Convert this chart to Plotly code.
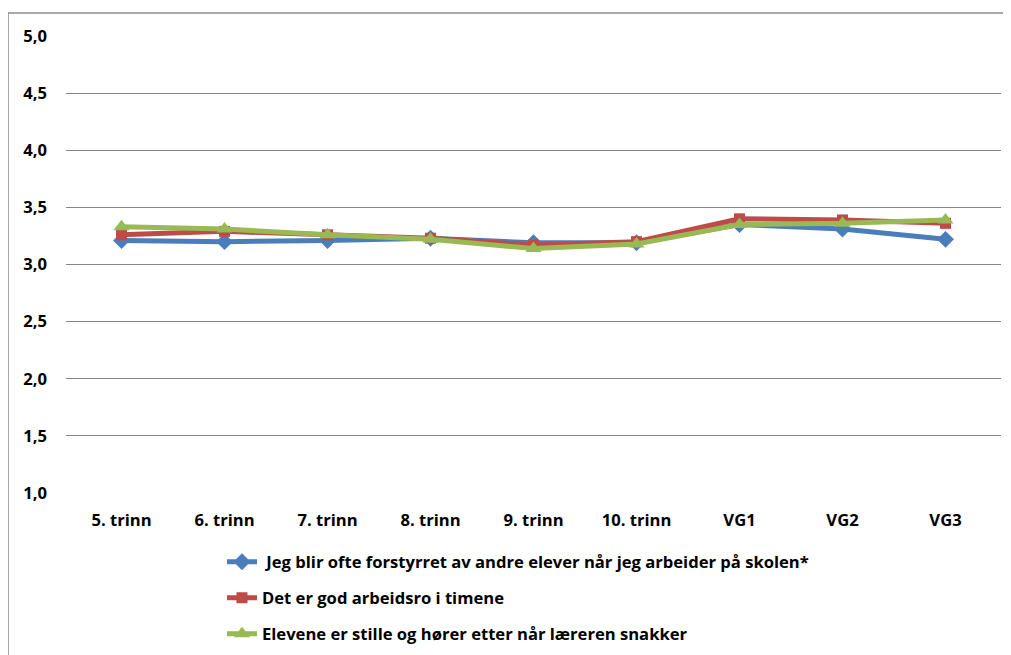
import plotly.graph_objects as go

categories = ["5. trinn", "6. trinn", "7. trinn", "8. trinn", "9. trinn", "10. trinn", "VG1", "VG2", "VG3"]
forstyrret = [3.21, 3.20, 3.21, 3.23, 3.19, 3.19, 3.35, 3.31, 3.22]
arbeidsro = [3.26, 3.29, 3.26, 3.23, 3.17, 3.20, 3.40, 3.39, 3.36]
stille = [3.33, 3.31, 3.26, 3.22, 3.14, 3.18, 3.35, 3.36, 3.39]
names = [
    " Jeg blir ofte forstyrret av andre elever når jeg arbeider på skolen*",
    "Det er god arbeidsro i timene",
    "Elevene er stille og hører etter når læreren snakker",
]

OFF = 8  # page body margin
W, H = 1011 - OFF, 655 - OFF
L, R, T, B = 66 - OFF, 10, 36 - OFF, 162
pw, ph = W - L - R, H - T - B

def px(sx):
    return (sx - OFF - L) / pw

def py(sy):
    return (H - B - (sy - OFF)) / ph

FONT = "Open Sans"
FS = 16.6
fig = go.Figure()
series = [
    (forstyrret, names[0], "#4A7EBB", "diamond", 13, "legend"),
    (arbeidsro, names[1], "#BE4B48", "square", 11, "legend2"),
    (stille, names[2], "#98B954", "triangle-up", 14, "legend3"),
]
for vals, nm, col, sym, ms, lg in series:
    fig.add_trace(go.Scatter(
        x=categories, y=vals, name=nm, mode="lines+markers",
        line=dict(color=col, width=5),
        marker=dict(symbol=sym, size=ms, color=col),
        legend=lg,
    ))

legend_common = dict(
    font=dict(family=FONT, size=FS, color="black", weight="bold"),
    bgcolor="rgba(0,0,0,0)", xanchor="left", yanchor="middle",
    itemwidth=30,
)
fig.update_layout(
    width=W, height=H,
    margin=dict(l=L, r=R, t=T, b=B, autoexpand=False),
    paper_bgcolor="white", plot_bgcolor="white",
    separators=", ",
    font=dict(family=FONT, size=FS, color="black"),
    showlegend=True,
    legend=dict(x=px(222), y=py(562), **legend_common),
    legend2=dict(x=px(222), y=py(598), **legend_common),
    legend3=dict(x=px(222), y=py(634), **legend_common),
    xaxis=dict(
        showgrid=False, showline=False, ticks="", automargin=False,
        tickfont=dict(family=FONT, size=FS, color="black", weight="bold"),
        ticklabelstandoff=15,
    ),
    yaxis=dict(
        range=[1, 5], dtick=0.5, tickformat=".1f", automargin=False,
        showgrid=True, gridcolor="#868686", gridwidth=1,
        showline=False, zeroline=False, ticks="",
        tickfont=dict(family=FONT, size=FS, color="black", weight="bold"),
        ticklabelstandoff=18,
    ),
    shapes=[
        dict(type="line", xref="paper", yref="paper",
             x0=px(8), x1=px(1030), y0=py(13), y1=py(13),
             line=dict(color="#8c8c8c", width=1.5)),
        dict(type="line", xref="paper", yref="paper",
             x0=px(8), x1=px(8), y0=py(13), y1=py(680),
             line=dict(color="#8c8c8c", width=1.5)),
    ],
)
fig.write_html("out.html")
